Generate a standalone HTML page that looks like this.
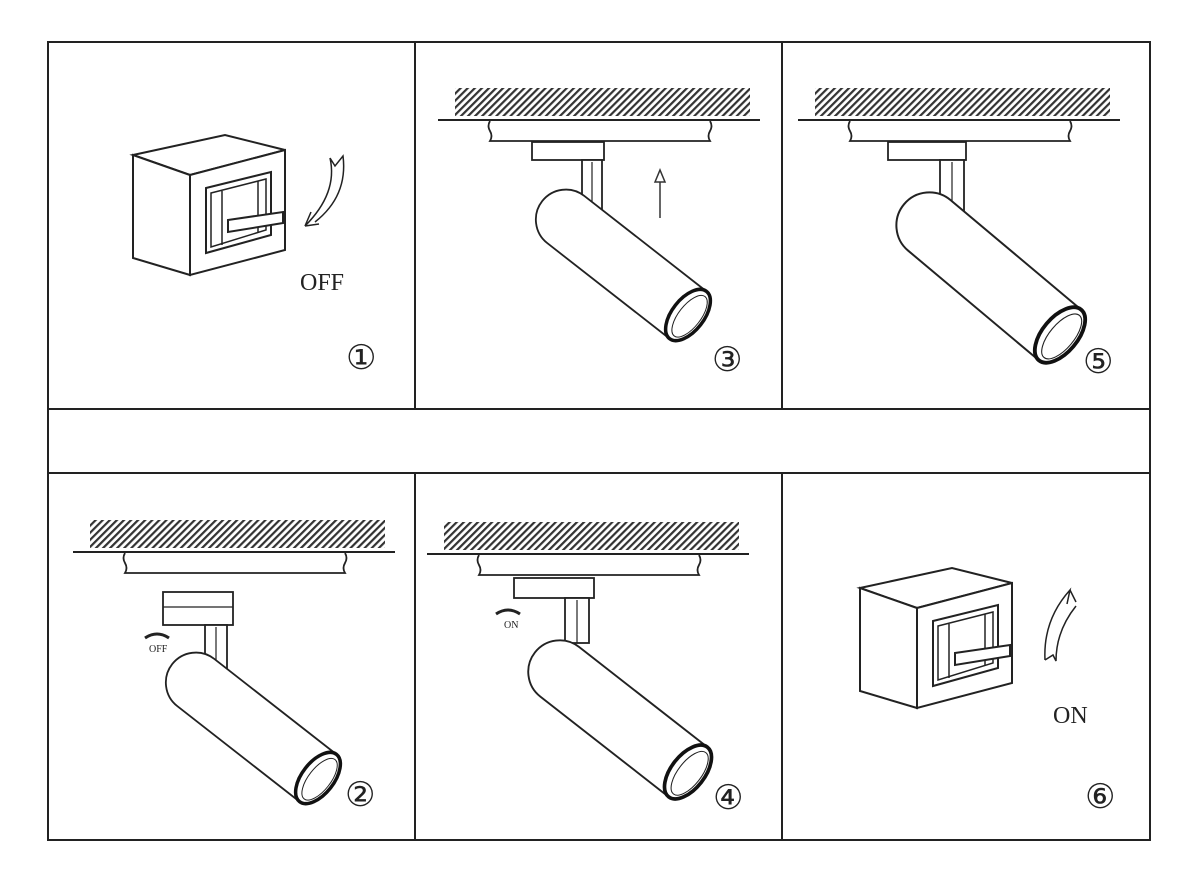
<!DOCTYPE html>
<html><head><meta charset="utf-8"><style>
html,body{margin:0;padding:0;background:#fff;}
svg{display:block}
text{font-family:"Liberation Serif",serif;fill:#222}
</style></head><body>
<svg width="1200" height="884" viewBox="0 0 1200 884" xmlns="http://www.w3.org/2000/svg">
<defs>
<pattern id="h" width="5" height="5" patternUnits="userSpaceOnUse" patternTransform="rotate(45)">
<rect width="5" height="5" fill="#fff"/><rect width="2.2" height="5" fill="#333"/>
</pattern>
<g id="ceil">
<rect x="17" y="0" width="295" height="28" fill="url(#h)"/>
<line x1="0" y1="32" x2="322" y2="32" stroke="#222" stroke-width="2"/>
<path d="M52,33 q-3,5 0,10 q3,5 0,10 L272,53 q-3,-5 0,-10 q3,-5 0,-10" fill="#fff" stroke="#222" stroke-width="1.8"/>
</g>
<g id="sw">
<path d="M0,20 L92,0 L152,15 L57,40 Z" fill="#fff" stroke="#222" stroke-width="2"/>
<path d="M0,20 L57,40 L57,140 L0,123 Z" fill="#fff" stroke="#222" stroke-width="2"/>
<path d="M57,40 L152,15 L152,115 L57,140 Z" fill="#fff" stroke="#222" stroke-width="2"/>
<path d="M73,53 L138,37 L138,100 L73,118 Z" fill="#fff" stroke="#222" stroke-width="2"/>
<path d="M78,58 L133,44 L133,95 L78,112 Z" fill="none" stroke="#222" stroke-width="1.5"/>
<line x1="89" y1="56" x2="89" y2="110" stroke="#222" stroke-width="1.5"/>
<line x1="125" y1="46" x2="125" y2="98" stroke="#222" stroke-width="1.5"/>
<path d="M95,85 L150,77 L150,88 L95,97 Z" fill="#fff" stroke="#222" stroke-width="2"/>
</g>
<g id="lamp">
<path d="M0,-30 L-155,-30 A30,30 0 0 0 -155,30 L0,30" fill="#fff" stroke="#222" stroke-width="1.8"/>
<ellipse cx="0" cy="0" rx="16" ry="30" fill="#fff" stroke="#111" stroke-width="3.5"/>
<ellipse cx="2" cy="0" rx="11" ry="25" fill="none" stroke="#222" stroke-width="1"/>
</g>
</defs>

<rect x="48" y="42" width="1102" height="798" fill="none" stroke="#222" stroke-width="2"/>
<line x1="48" y1="409" x2="1150" y2="409" stroke="#222" stroke-width="2"/>
<line x1="48" y1="473" x2="1150" y2="473" stroke="#222" stroke-width="2"/>
<line x1="415" y1="42" x2="415" y2="409" stroke="#222" stroke-width="2"/>
<line x1="782" y1="42" x2="782" y2="409" stroke="#222" stroke-width="2"/>
<line x1="415" y1="473" x2="415" y2="840" stroke="#222" stroke-width="2"/>
<line x1="782" y1="473" x2="782" y2="840" stroke="#222" stroke-width="2"/>

<!-- Panel 1 -->
<use href="#sw" x="133" y="135"/>
<path d="M330,158 q8,35 -25,68 l6,-14 M305,226 l14,-2 M330,158 l5,8 l8,-10 q5,40 -28,66" fill="none" stroke="#222" stroke-width="1.5"/>
<text x="300" y="290" font-size="24">OFF</text>
<text x="346" y="369" font-size="34">①</text>

<!-- Panel 3 -->
<use href="#ceil" x="438" y="88"/>
<rect x="532" y="142" width="72" height="18" fill="#fff" stroke="#222" stroke-width="1.8"/>
<rect x="582" y="160" width="20" height="50" fill="#fff" stroke="#222" stroke-width="1.8"/>
<line x1="592" y1="162" x2="592" y2="210" stroke="#222" stroke-width="1.2"/>
<g transform="translate(688,315) rotate(38)"><use href="#lamp"/></g>
<line x1="660" y1="180" x2="660" y2="218" stroke="#333" stroke-width="1.5"/>
<path d="M655,182 L660,170 L665,182 Z" fill="#fff" stroke="#333" stroke-width="1.5"/>
<text x="712" y="371" font-size="34">③</text>

<!-- Panel 5 -->
<use href="#ceil" x="798" y="88"/>
<rect x="888" y="142" width="78" height="18" fill="#fff" stroke="#222" stroke-width="1.8"/>
<rect x="940" y="160" width="24" height="52" fill="#fff" stroke="#222" stroke-width="1.8"/>
<line x1="952" y1="162" x2="952" y2="212" stroke="#222" stroke-width="1.2"/>
<g transform="translate(1060,335) rotate(40) scale(1.1)"><use href="#lamp"/></g>
<text x="1083" y="373" font-size="34">⑤</text>

<!-- Panel 2 -->
<use href="#ceil" x="73" y="520"/>
<rect x="163" y="592" width="70" height="33" fill="#fff" stroke="#222" stroke-width="1.8"/>
<line x1="163" y1="607" x2="233" y2="607" stroke="#222" stroke-width="1.2"/>
<rect x="205" y="625" width="22" height="45" fill="#fff" stroke="#222" stroke-width="1.8"/>
<line x1="216" y1="627" x2="216" y2="670" stroke="#222" stroke-width="1.2"/>
<g transform="translate(318,778) rotate(38)"><use href="#lamp"/></g>
<path d="M145,638 q12,-8 24,0" fill="none" stroke="#222" stroke-width="3"/>
<text x="149" y="652" font-size="10">OFF</text>
<text x="345" y="806" font-size="34">②</text>

<!-- Panel 4 -->
<use href="#ceil" x="427" y="522"/>
<rect x="514" y="578" width="80" height="20" fill="#fff" stroke="#222" stroke-width="1.8"/>
<rect x="565" y="598" width="24" height="45" fill="#fff" stroke="#222" stroke-width="1.8"/>
<line x1="577" y1="600" x2="577" y2="643" stroke="#222" stroke-width="1.2"/>
<g transform="translate(688,772) rotate(38) scale(1.05)"><use href="#lamp"/></g>
<path d="M496,614 q12,-8 24,0" fill="none" stroke="#222" stroke-width="3"/>
<text x="504" y="628" font-size="10">ON</text>
<text x="713" y="809" font-size="34">④</text>

<!-- Panel 6 -->
<use href="#sw" x="860" y="568"/>
<path d="M1045,660 q-2,-40 25,-70 l-3,14 M1070,590 l6,12 M1045,660 l8,-5 l3,6 q0,-30 20,-55" fill="none" stroke="#222" stroke-width="1.5"/>
<text x="1053" y="723" font-size="24">ON</text>
<text x="1085" y="808" font-size="34">⑥</text>
</svg>
</body></html>
